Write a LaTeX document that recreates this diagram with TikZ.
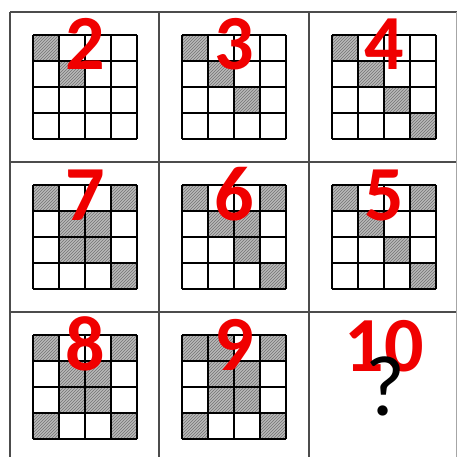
\documentclass[tikz,border=0pt]{standalone}
\usepackage{fontspec}
\setmainfont{Carlito}
\usetikzlibrary{patterns}
\definecolor{numred}{RGB}{240,0,0}
\tikzset{
  frameline/.style={draw=black!70, line width=1.6pt},
  faintline/.style={draw=black!35, line width=1pt},
  gridline/.style={draw=black, line width=1.3pt},
  hatchbox/.style={fill=gray!55, postaction={pattern=north east lines, pattern color=black!55}},
  hatchedge/.style={draw=black, line width=1pt, dotted},
  numlabel/.style={text=numred, font=\fontsize{78}{78}\selectfont\bfseries, inner sep=0pt, anchor=base},
  qlabel/.style={text=black, font=\fontsize{86}{86}\selectfont, inner sep=0pt, anchor=base}
}
\newcommand\mypanel[4]{%
  \foreach \r/\c in {#4} {
    \fill[hatchbox] ({#1+23+26*\c},{#2+23+26*\r}) rectangle ++(26,26);
  }
  \foreach \i in {0,...,4} {
    \draw[gridline] ({#1+23+26*\i},{#2+23}) -- ({#1+23+26*\i},{#2+127});
    \draw[gridline] ({#1+23},{#2+23+26*\i}) -- ({#1+127},{#2+23+26*\i});
  }
  \foreach \r/\c in {#4} {
    \draw[hatchedge] ({#1+23+26*\c},{#2+23+26*\r}) rectangle ++(26,26);
  }
  \node[numlabel] (n#3) at ({#1+75},{#2+58}) {#3};
}
\begin{document}
\begin{tikzpicture}[x=1pt,y=-1pt]
\useasboundingbox[fill=white] (0,0) rectangle (457,457);
\coordinate (tl) at (10,12);
\coordinate (tr) at (457,12);
\coordinate (bl) at (10,457);
\draw[frameline] (tl) -- (tr);
\draw[frameline] (tl) -- (bl);
\draw[frameline] (10,162) -- (457,162);
\draw[frameline] (10,312) -- (457,312);
\draw[frameline] (159,12) -- (159,457);
\draw[frameline] (309,12) -- (309,457);
\draw[faintline] (456,12) -- (456,457);
\mypanel{10}{12}{2}{0/0,1/1}
\mypanel{159}{12}{3}{0/0,1/1,2/2}
\mypanel{309}{12}{4}{0/0,1/1,2/2,3/3}
\mypanel{10}{162}{7}{0/0,0/3,1/1,1/2,2/1,2/2,3/3}
\mypanel{159}{162}{6}{0/0,0/3,1/1,1/2,2/2,3/3}
\mypanel{309}{162}{5}{0/0,0/3,1/1,2/2,3/3}
\mypanel{10}{312}{8}{0/0,0/3,1/1,1/2,2/1,2/2,3/0,3/3}
\mypanel{159}{312}{9}{0/0,0/1,0/3,1/1,1/2,2/1,2/2,3/0,3/3}
\node[numlabel] (n10) at (384,371) {10};
\node[qlabel] (q) at (385,415) {?};
\end{tikzpicture}
\end{document}
